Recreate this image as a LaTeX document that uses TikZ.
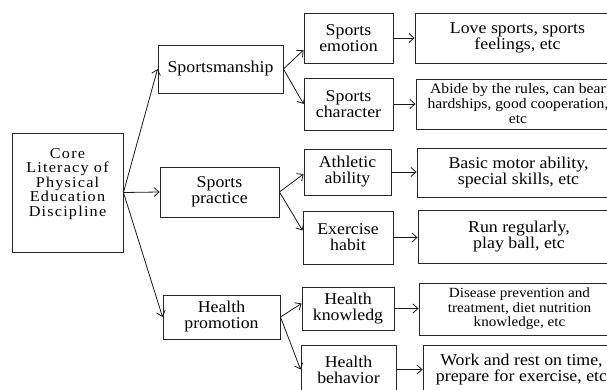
\documentclass[tikz,border=0pt]{standalone}
\usepackage{fontspec}
\setmainfont{Liberation Serif}[FakeStretch=1.08]
\newfontfamily\corefont{Liberation Serif}[FakeStretch=1.08,LetterSpace=8]
\usetikzlibrary{arrows.meta}
\tikzset{
  box/.style={draw=black!85, line width=0.9pt, inner sep=0pt, align=center,
    font=\fontsize{16.5}{16}\selectfont},
  arr/.style={draw=black!90, line width=0.8pt, -{Straight Barb[length=5pt,width=9pt]}},
}
\begin{document}
\begin{tikzpicture}[x=1pt,y=-1pt]
\useasboundingbox (0,0) rectangle (607,390);
\begin{scope}
\clip (0,0) rectangle (607,390);
% root
\node[box, minimum width=111, minimum height=119] (core) at (67.5,192.5)
  {\raisebox{4.5pt}[0pt][0pt]{\corefont\fontsize{15}{13.8}\selectfont
   \begin{tabular}{@{}c@{}}Core\\Literacy of\\Physical\\Education\\Discipline\end{tabular}}};
% level 1
\node[box, minimum width=125, minimum height=48] (smp) at (220.5,69) {Sportsmanship};
\node[box, minimum width=119, minimum height=50] (spr) at (219.5,192) {Sports\\practice};
\node[box, minimum width=117, minimum height=44] (hpr) at (221.5,317) {Health\\promotion};
% level 2
\node[box, minimum width=89, minimum height=50] (emo) at (348.5,38) {Sports\\emotion};
\node[box, minimum width=89, minimum height=52] (chr) at (348.5,104) {Sports\\character};
\node[box, minimum width=87, minimum height=46] (ath) at (347.5,172) {Athletic\\ability};
\node[box, minimum width=90, minimum height=53] (exh) at (348,237.5) {Exercise\\habit};
\node[box, minimum width=92, minimum height=43] (hkn) at (348,308.5) {Health\\knowledg};
\node[box, minimum width=95, minimum height=49] (hbe) at (348.5,369.5) {Health\\behavior};
% level 3
\node[box, minimum width=205, minimum height=50] (love) at (517.5,38) {Love sports, sports\\feelings, etc};
\node[box, minimum width=204, minimum height=50, font=\fontsize{14.5}{15}\selectfont] (abide) at (518,104)
  {Abide by the rules, can bear\\hardships, good cooperation,\\etc};
\node[box, minimum width=203, minimum height=49] (basic) at (518.5,172.5) {Basic motor ability,\\special skills, etc};
\node[box, minimum width=202, minimum height=53] (run) at (519,236.5) {Run regularly,\\play ball, etc};
\node[box, minimum width=201, minimum height=52, font=\fontsize{14}{14.5}\selectfont] (dis) at (519.5,309)
  {Disease prevention and\\treatment, diet nutrition\\knowledge, etc};
\node[box, minimum width=197, minimum height=49] (work) at (521.5,369.5) {Work and rest on time,\\prepare for exercise, etc};
% connectors
\draw[arr] (core.east) -- (smp.west);
\draw[arr] (core.east) -- (spr.west);
\draw[arr] (core.east) -- (hpr.west);
\draw[arr] (smp.east) -- ([yshift=-12pt]emo.west);
\draw[arr] (smp.east) -- (chr.west);
\draw[arr] (spr.east) -- ([yshift=-2pt]ath.west);
\draw[arr] (spr.east) -- ([yshift=7pt]exh.west);
\draw[arr] (hpr.east) -- ([yshift=5pt]hkn.west);
\draw[arr] (hpr.east) -- (hbe.west);
\draw[arr] (emo.east) -- (love.west |- emo.east);
\draw[arr] (chr.east) -- (abide.west |- chr.east);
\draw[arr] (ath.east) -- (basic.west |- ath.east);
\draw[arr] (exh.east) -- (run.west |- exh.east);
\draw[arr] (hkn.east) -- (dis.west |- hkn.east);
\draw[arr] (hbe.east) -- (work.west |- hbe.east);
\end{scope}
\end{tikzpicture}
\end{document}
